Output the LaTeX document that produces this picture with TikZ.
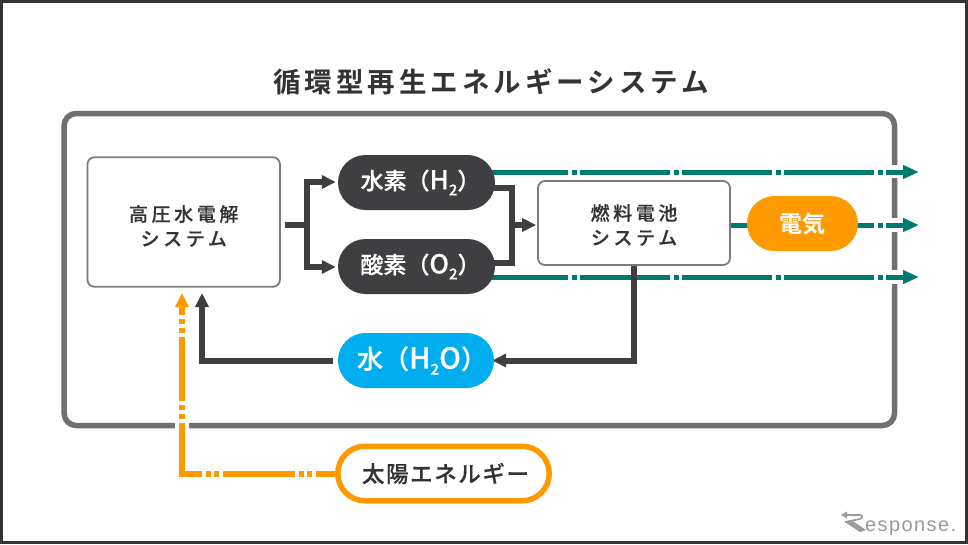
\documentclass[tikz,border=0pt]{standalone}
\usepackage{fontspec}
\setmainfont{Noto Sans CJK JP}
\newfontfamily\cjktitle[LetterSpace=14.5]{Noto Sans CJK JP Bold}
\newfontfamily\cjkbox[LetterSpace=19,FakeBold=0.25]{Noto Sans CJK JP Medium}
\newfontfamily\cjkpill[FakeBold=0.6]{Noto Sans CJK JP Medium}
\newfontfamily\cjkdenki{Noto Sans CJK JP Bold}
\newfontfamily\cjksun[LetterSpace=7,FakeBold=0.4]{Noto Sans CJK JP Medium}
\newfontfamily\logofont[LetterSpace=7]{Liberation Sans}
\usetikzlibrary{arrows.meta,shapes.misc,backgrounds}
\definecolor{darkfg}{HTML}{3F3F41}
\definecolor{txt}{HTML}{333333}
\definecolor{framec}{HTML}{716F6F}
\definecolor{boxc}{HTML}{7B7B7B}
\definecolor{tealc}{HTML}{00796F}
\definecolor{orangec}{HTML}{FF9900}
\definecolor{bluec}{HTML}{00AEEF}
\definecolor{logoc}{HTML}{9A9A9A}
\tikzset{
  boxn/.style={draw=boxc,line width=1.8pt,fill=white,rounded corners=7pt,align=center,inner sep=0pt,text=txt,
    font=\fontsize{19}{24.5}\selectfont\cjkbox},
  pill/.style={rounded rectangle,inner sep=0pt,minimum height=55pt,text=white,
    font=\fontsize{23}{26}\selectfont\cjkpill},
  flow/.style={draw=darkfg,line width=6pt,line join=miter},
  ftip/.style={-{Triangle[length=14pt,width=13pt]}},
  tealflow/.style={draw=tealc,line width=5pt,-{Triangle[length=16pt,width=13pt]},
    dash pattern=on 90pt off 4pt on 5pt off 3pt},
  orflow/.style={draw=orangec,line width=6pt},
  patch/.style={fill=white,draw=none}
}
\newcommand{\subtwo}{\raisebox{-6pt}{\fontsize{15}{15}\selectfont 2}}
\newcommand{\latinbig}[1]{{\fontsize{26}{26}\selectfont #1}}
\newcommand{\latinbigger}[1]{{\fontsize{29}{29}\selectfont #1}}
\begin{document}
\begin{tikzpicture}[x=1pt,y=-1pt]
\useasboundingbox (0,0) rectangle (968,544);
\node[font=\fontsize{27.5}{30}\selectfont\cjktitle,text=txt] (title) at (491,81.5) {循環型再生エネルギーシステム};
\node[boxn,minimum width=192.5pt,minimum height=129.5pt] (elec) at (183.7,222) {\rule{0pt}{24pt}高圧水電解\\システム};
\node[boxn,minimum width=192pt,minimum height=84pt] (fuel) at (634,223) {\rule{0pt}{20pt}燃料電池\\システム};
\node[pill,fill=darkfg,minimum width=157pt] (h2) at (416.5,182.5) {\hspace*{8pt}水素（\latinbig{H}\subtwo）};
\node[pill,fill=darkfg,minimum width=157pt] (o2) at (416.5,266.5) {\hspace*{8pt}酸素（\latinbig{O}\subtwo）};
\node[pill,fill=bluec,minimum width=156pt,font=\fontsize{26}{28}\selectfont\cjkpill] (water) at (416,360.5) {\hspace*{12pt}水（\latinbigger{H}\subtwo\latinbigger{O}）};
\node[pill,fill=orangec,minimum width=111pt,font=\fontsize{23}{26}\selectfont\cjkdenki] (denki) at (802.5,223.5) {電気};
\node[pill,draw=orangec,line width=5.5pt,fill=white,minimum width=211.5pt,minimum height=54.5pt,text=txt,
  font=\fontsize{22.5}{26}\selectfont\cjksun] (sun) at (443.5,473.5) {\hspace*{4pt}太陽エネルギー};
\coordinate (e1) at (919,172);
\coordinate (e2) at (919,225);
\coordinate (e3) at (919,277);
\coordinate (wtip) at (202,293);
\coordinate (otip) at (182,293);
\coordinate (ocorner) at (182,474);
\coordinate (sp) at (307,225);
\coordinate (spH) at (307,182);
\coordinate (spO) at (307,267);
\coordinate (mA) at (512,188);
\coordinate (mB) at (512,263);
\coordinate (mC) at (512,225);
\begin{pgfonlayer}{background}
  \fill[white] (0,0) rectangle (968,544);
  \draw[draw=txt,line width=3pt] (1.5,1.5) rectangle (966.5,542.5);
  \draw[draw=framec,line width=5.5pt,rounded corners=12pt] (64.2,113.5) rectangle (894.5,425.5);
  \fill[patch] (888,165) rectangle (901,178);
  \fill[patch] (888,218) rectangle (901,232);
  \fill[patch] (888,270) rectangle (901,284);
  \fill[patch] (175,420) rectangle (189,431);
  % teal
  \draw[tealflow,dash phase=40.5pt] (h2.center |- e1) -- (e1);
  \draw[tealflow,dash phase=49pt] (fuel.east |- e2) -- (e2);
  \draw[tealflow,dash phase=40.5pt] (o2.center |- e3) -- (e3);
  % dark
  \draw[flow,shorten <=4pt] (elec.east |- sp) -- (sp);
  \draw[flow,ftip,shorten >=2pt] (spH) -- (h2.west |- spH);
  \draw[flow,ftip,shorten >=2pt] (spO) -- (o2.west |- spO);
  \draw[flow] (spH) ++(0,-3) -- (spO |- 0,270);
  \draw[flow] (h2.center |- mA) -- (mA) -- (mB) -- (o2.center |- mB);
  \draw[flow,ftip,shorten >=1pt] (mC) -- (fuel.west |- mC);
  \draw[flow,ftip,shorten >=-2pt] (fuel.south) |- (water.east);
  \draw[flow,ftip,shorten <=5pt] (water.west) -| (wtip);
  % orange
  \draw[orflow,dash pattern=on 72pt off 4pt on 5pt off 3pt on 5pt off 4pt,dash phase=53pt,line cap=butt] (sun.west |- ocorner) -- (ocorner) -- ++(-3,0);
  \draw[orflow,-{Triangle[length=14pt,width=13pt]},dash pattern=on 64pt off 4pt on 5pt off 4pt on 5pt off 4pt,dash phase=10pt] (ocorner) ++(0,3) -- (otip);
  % logo mark
  \draw[logoc,line width=1.6pt,line join=round] (846,515) -- (860,515) .. controls (863,515) and (863,518) .. (860,519) -- (845,522);
  \fill[logoc] (845,522) -- (852,520.5) -- (866,530) -- (860,532) -- cycle;
  \fill[logoc] (841,515) -- (847,511.5) -- (847,518.5) -- cycle;
\end{pgfonlayer}
\node[anchor=base west,inner sep=0pt,text=logoc,font=\fontsize{20}{22}\selectfont\logofont] (logo) at (865,531.5) {esponse.};
\end{tikzpicture}
\end{document}
